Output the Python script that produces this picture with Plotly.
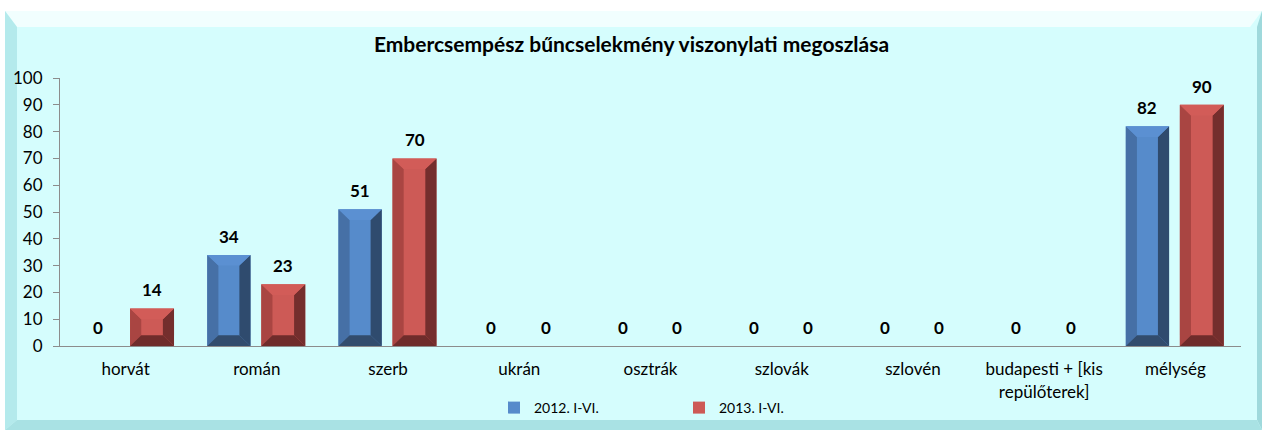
import plotly.graph_objects as go

# categories and values
categories = ["horvát", "román", "szerb", "ukrán", "osztrák", "szlovák",
              "szlovén", "budapesti + [kis<br>repülőterek]", "mélység"]
vals_2012 = [0, 34, 51, 0, 0, 0, 0, 0, 82]
vals_2013 = [14, 23, 70, 0, 0, 0, 0, 0, 90]
series_names = ["2012. I-VI.", "2013. I-VI."]
y_ticks = list(range(0, 101, 10))

FONT = "Lato, 'Open Sans', sans-serif"

# bar geometry (category units) and bevel colours
series = [
    dict(name=series_names[0], vals=vals_2012, offset=-0.378, width=0.33,
         face="#568bcb", left="#4670a6", right="#2f4b6e", top="#5b90d2", bottom="#324c6d"),
    dict(name=series_names[1], vals=vals_2013, offset=0.034, width=0.335,
         face="#cd5a56", left="#a94542", right="#742e2d", top="#d25c58", bottom="#6f2c2b"),
]
BX, BY = 0.085, 4.0  # bevel size in data units

fig = go.Figure()
shapes = []
annotations = []


def poly(pts, color):
    path = "M " + " L ".join(f"{x},{y}" for x, y in pts) + " Z"
    return dict(type="path", path=path, xref="x", yref="y", fillcolor=color,
                line=dict(width=0), layer="above")


for s in series:
    xs = list(range(len(categories)))
    fig.add_trace(go.Bar(
        x=xs, y=s["vals"], name=s["name"], offset=s["offset"], width=s["width"],
        marker=dict(color=s["face"], line=dict(width=0)),
        hoverinfo="y",
    ))
    for i, v in zip(xs, s["vals"]):
        x0 = i + s["offset"]
        x1 = x0 + s["width"]
        if v > 0:
            dy = min(BY, v / 2.5)
            shapes.append(poly([(x0, 0), (x0, v), (x0 + BX, v - dy), (x0 + BX, dy)], s["left"]))
            shapes.append(poly([(x1, 0), (x1, v), (x1 - BX, v - dy), (x1 - BX, dy)], s["right"]))
            shapes.append(poly([(x0, v), (x1, v), (x1 - BX, v - dy), (x0 + BX, v - dy)], s["top"]))
            shapes.append(poly([(x0, 0), (x1, 0), (x1 - BX, dy), (x0 + BX, dy)], s["bottom"]))
        annotations.append(dict(
            x=(x0 + x1) / 2, y=v, xref="x", yref="y", text=f"<b>{v}</b>",
            showarrow=False, yanchor="bottom", yshift=6,
            font=dict(size=17, color="black", family=FONT),
        ))

# background frame (paper coords; plot area spans x 60..1241, y 78..346 px)
W, H = 1263, 430
L, R, T, B = 60, 22, 78, 84
pw, ph = W - L - R, H - T - B


def px(x):
    return (x - L) / pw


def py(y):
    return (H - B - y) / ph


def frame_poly(pts, color):
    path = "M " + " L ".join(f"{px(x)},{py(y)}" for x, y in pts) + " Z"
    return dict(type="path", path=path, xref="paper", yref="paper", fillcolor=color,
                line=dict(width=0), layer="below")


fx0, fx1, fy0, fy1 = 5, 1262, 11, 430
bw = 12
shapes = [
    dict(type="rect", xref="paper", yref="paper", x0=px(fx0), x1=px(fx1), y0=py(fy1), y1=py(fy0),
         fillcolor="#d5fdfd", line=dict(width=0), layer="below"),
    frame_poly([(fx0, fy0), (fx1, fy0), (fx1 - bw, fy0 + 16), (fx0 + bw, fy0 + 16)], "#f1fefe"),
    frame_poly([(fx0, fy0), (fx0 + bw, fy0 + 16), (fx0 + bw, fy1 - 10), (fx0, fy1)], "#b4eaec"),
    frame_poly([(fx1, fy0), (fx1 - 5, fy0 + 16), (fx1 - 5, fy1 - 10), (fx1, fy1)], "#9fd9dc"),
    frame_poly([(fx0, fy1), (fx0 + bw, fy1 - 10), (fx1 - 5, fy1 - 10), (fx1, fy1)], "#a9e2e4"),
] + shapes

fig.update_layout(
    width=W, height=H,
    margin=dict(l=L, r=R, t=T, b=B, autoexpand=False),
    paper_bgcolor="white",
    plot_bgcolor="rgba(0,0,0,0)",
    font=dict(family=FONT, color="black"),
    title=dict(text="<b>Embercsempész bűncselekmény viszonylati megoszlása</b>",
               x=0.5, xref="container", xanchor="center", y=1 - 45 / H, yanchor="middle",
               font=dict(size=21, family=FONT, color="black")),
    showlegend=True,
    legend=dict(orientation="h", x=px(494), xanchor="left", y=py(408), yanchor="middle",
                entrywidth=140, font=dict(size=14, family=FONT), bgcolor="rgba(0,0,0,0)"),
    shapes=shapes,
    annotations=annotations,
    bargap=0.25,
)

fig.update_xaxes(
    range=[-0.5, len(categories) - 0.5],
    tickvals=list(range(len(categories))), ticktext=categories,
    showline=True, linecolor="#8c8c8c", linewidth=1,
    showgrid=False, zeroline=False, ticks="",
    tickfont=dict(size=17, family=FONT), ticklabelstandoff=8,
    automargin=False, fixedrange=True,
)
fig.update_yaxes(
    range=[0, 100], tickvals=y_ticks,
    showline=True, linecolor="#8c8c8c", linewidth=1,
    ticks="outside", ticklen=6, tickcolor="#8c8c8c",
    showgrid=False, zeroline=False,
    tickfont=dict(size=17, family=FONT), ticklabelstandoff=7,
    automargin=False, fixedrange=True,
)

# drop the default page margin so the figure sits at the window's top-left corner
fig.write_html("out.html", config={"displayModeBar": False},
               post_script="document.body.style.margin='0';")
